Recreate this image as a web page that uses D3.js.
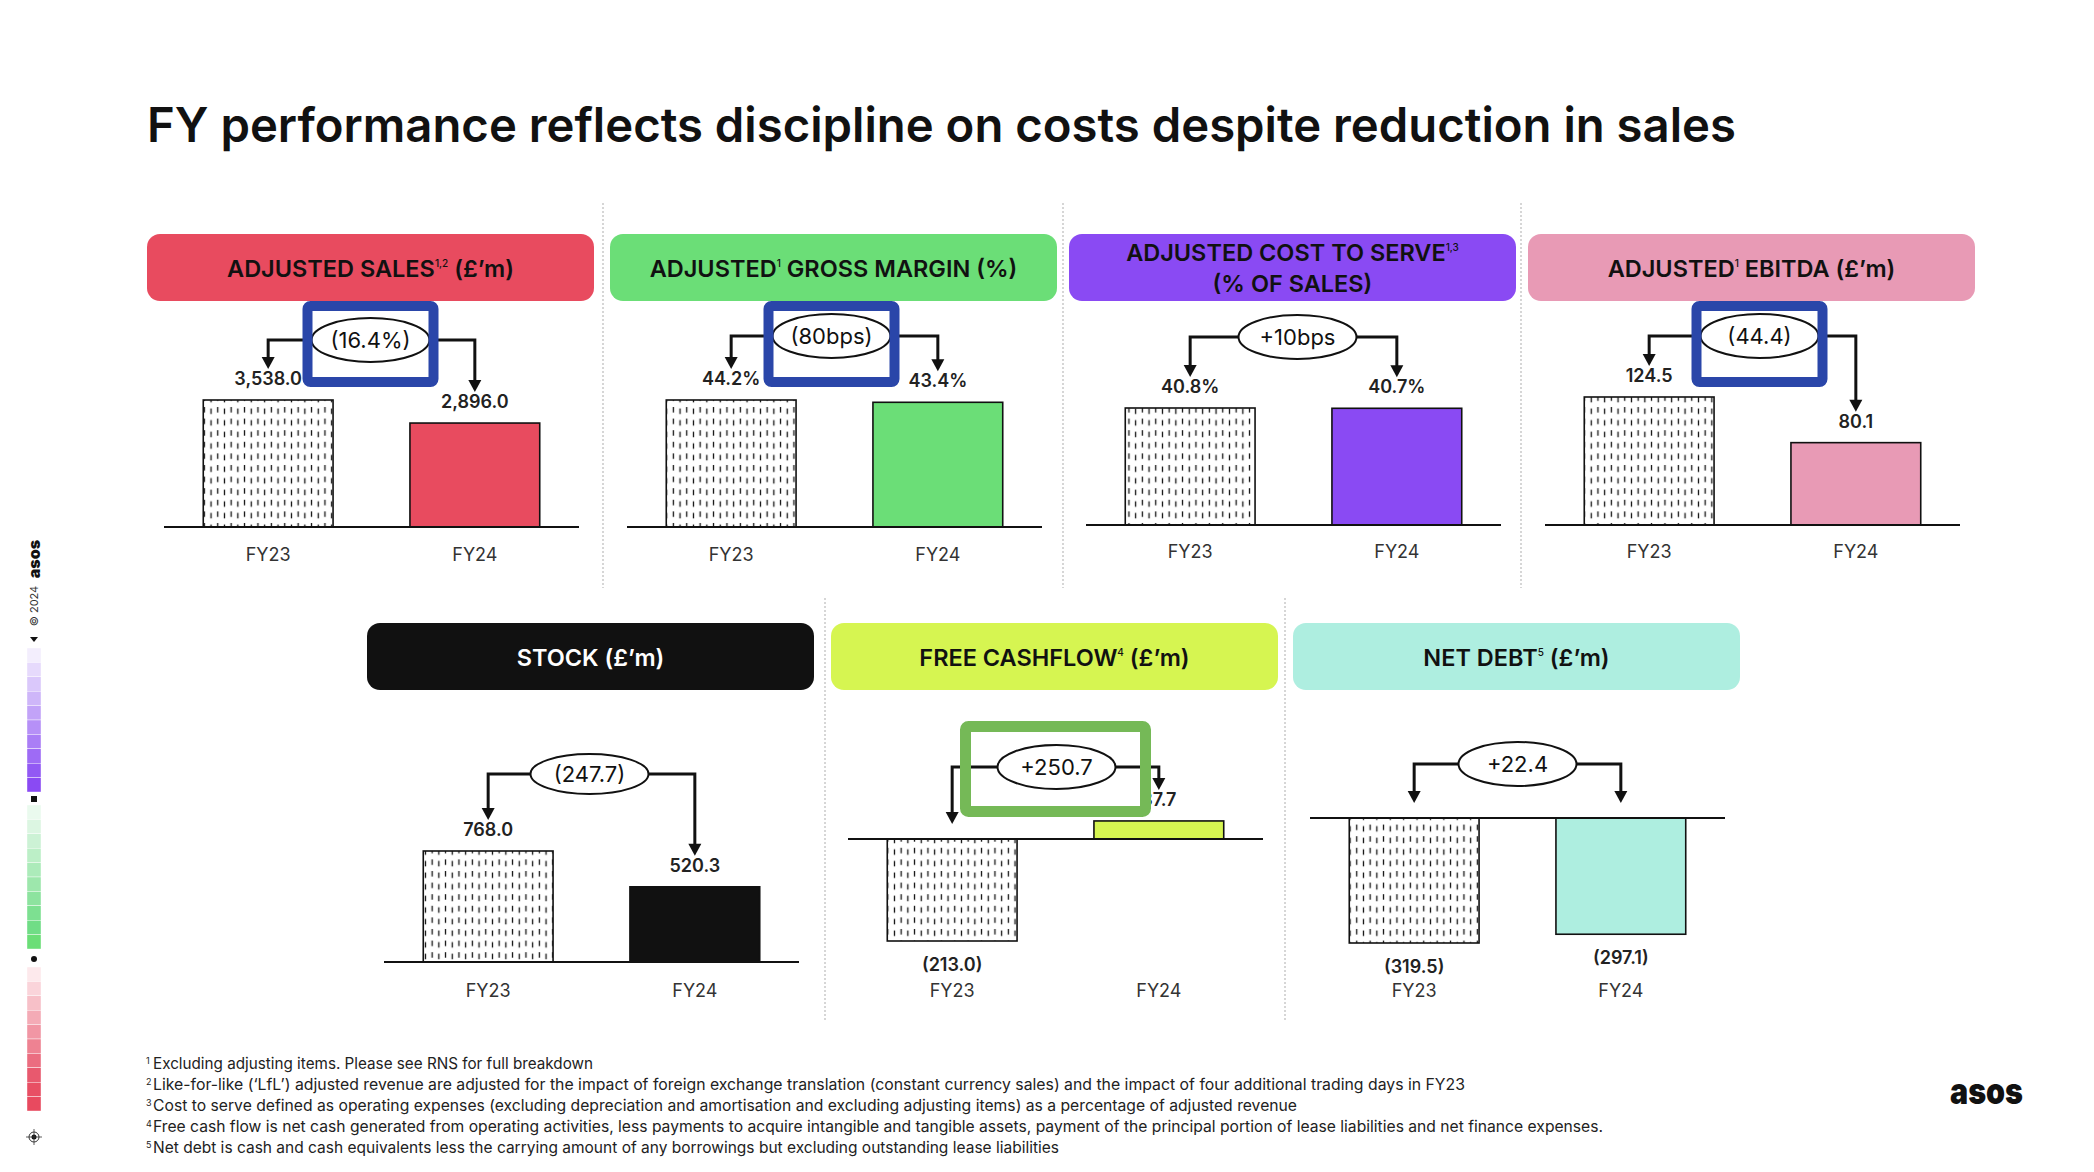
<!DOCTYPE html>
<html><head><meta charset="utf-8">
<script src="https://cdn.jsdelivr.net/npm/d3@7/dist/d3.min.js"></script>
<style>
html,body{margin:0;padding:0;background:#fff;}
svg{display:block;}
text{font-family:Inter,"Noto Sans",sans-serif;}
</style></head>
<body>
<svg id="c" width="2094" height="1172"></svg>
<script>
// ---------------- DATA ----------------
const categories = ["FY23", "FY24"];
const fy23Values = [3538.0, 44.2, 40.8, 124.5, 768.0, -213.0, -319.5];
const fy24Values = [2896.0, 43.4, 40.7, 80.1, 520.3, 37.7, -297.1];
const fy23Labels = ["3,538.0", "44.2%", "40.8%", "124.5", "768.0", "(213.0)", "(319.5)"];
const fy24Labels = ["2,896.0", "43.4%", "40.7%", "80.1", "520.3", "37.7", "(297.1)"];
const changeLabels = ["(16.4%)", "(80bps)", "+10bps", "(44.4)", "(247.7)", "+250.7", "+22.4"];
const headerLines = [
  [[["ADJUSTED SALES", 0], ["1,2", 1], [" (£’m)", 0]]],
  [[["ADJUSTED", 0], ["1", 1], [" GROSS MARGIN (%)", 0]]],
  [[["ADJUSTED COST TO SERVE", 0], ["1,3", 1]], [["(% OF SALES)", 0]]],
  [[["ADJUSTED", 0], ["1", 1], [" EBITDA (£’m)", 0]]],
  [[["STOCK (£’m)", 0]]],
  [[["FREE CASHFLOW", 0], ["4", 1], ["  (£’m)", 0]]],
  [[["NET DEBT", 0], ["5", 1], [" (£’m)", 0]]]
];
const headerColors = ["#E84B5F", "#6BDE77", "#8A4AF3", "#E89AB5", "#111111", "#D6F551", "#AEEEE0"];
const headerTextColors = ["#111", "#111", "#111", "#111", "#fff", "#111", "#111"];
const fy24Colors = ["#E84B5F", "#6BDE77", "#8A4AF3", "#E89AB5", "#111111", "#D6F551", "#AEEEE0"];
const highlightKinds = ["blue", "blue", null, "blue", null, "green", null];
const titleText = "FY performance reflects discipline on costs despite reduction in sales";
const footnoteNums = ["1", "2", "3", "4", "5"];
const footnotes = [
  "Excluding adjusting items. Please see RNS for full breakdown",
  "Like-for-like (‘LfL’) adjusted revenue are adjusted for the impact of foreign exchange translation (constant currency sales) and the impact of four additional trading days in FY23",
  "Cost to serve defined as operating expenses (excluding depreciation and amortisation and excluding adjusting items) as a percentage of adjusted revenue",
  "Free cash flow is net cash generated from operating activities, less payments to acquire intangible and tangible assets, payment of the principal portion of lease liabilities and net finance expenses.",
  "Net debt is cash and cash equivalents less the carrying amount of any borrowings but excluding outstanding lease liabilities"
];
const purpleSteps = ["#F3EEFD","#E6DAFC","#DAC8FB","#CEB6F9","#C2A3F8","#B690F7","#AA7EF6","#9E6BF5","#9259F4","#8A4AF3"];
const greenSteps = ["#EAFAEE","#DCF6E2","#CCF2D5","#BCEFC7","#ACEBBA","#9DE7AC","#8DE39F","#7DE091","#70DD86","#6BDE77"];
const pinkSteps = ["#FDE9EC","#FAD4DA","#F7C0C8","#F4ABB6","#F196A4","#EE8292","#EB6D80","#E8596E","#E84F64","#E84A5F"];

// ---------------- LAYOUT ----------------
const layout = [
  {hx:147,  hy:234, base:527, hmax:127, ey:340, exOff:-1, catY:561},
  {hx:610,  hy:234, base:527, hmax:127, ey:336, exOff:-3, catY:561},
  {hx:1069, hy:234, base:525, hmax:117, ey:337, exOff:4,  catY:558},
  {hx:1528, hy:234, base:525, hmax:128, ey:336, exOff:7,  catY:558},
  {hx:367,  hy:623, base:962, hmax:111, ey:774, exOff:-2, catY:997},
  {hx:831,  hy:623, base:839, hmax:102, ey:767, exOff:1,  catY:997},
  {hx:1293, hy:623, base:818, hmax:125, ey:764, exOff:0,  catY:997}
];
const HW = 447, HH = 67;
const footWidths = [440, 1312, 1144, 1450, 906];

const svg = d3.select("#c");
const defs = svg.append("defs");
const pat = defs.append("pattern").attr("id","hatch").attr("patternUnits","userSpaceOnUse")
  .attr("width",13.4).attr("height",11.6);
pat.append("rect").attr("width",13.4).attr("height",11.6).attr("fill","#fff");
pat.append("line").attr("x1",3.35).attr("x2",3.35).attr("y1",1).attr("y2",6.5).attr("stroke","#111").attr("stroke-width",1.3);
pat.append("line").attr("x1",10.05).attr("x2",10.05).attr("y1",2.5).attr("y2",8).attr("stroke","#111").attr("stroke-width",1.3);

// Title
svg.append("text").attr("x",147).attr("y",142).attr("font-size",48).attr("font-weight",600)
  .attr("fill","#111").attr("textLength",1589).attr("lengthAdjust","spacingAndGlyphs").text(titleText);

// separators
const sepTop = [603, 1063, 1521], sepBot = [825, 1285];
sepTop.forEach(x => svg.append("line").attr("x1",x).attr("x2",x).attr("y1",203).attr("y2",588)
  .attr("stroke","#c9c9c9").attr("stroke-width",1.5).attr("stroke-dasharray","2,2"));
sepBot.forEach(x => svg.append("line").attr("x1",x).attr("x2",x).attr("y1",598).attr("y2",1022)
  .attr("stroke","#c9c9c9").attr("stroke-width",1.5).attr("stroke-dasharray","2,2"));

layout.forEach((L, i) => {
  const g = svg.append("g");
  // header
  g.append("rect").attr("x",L.hx).attr("y",L.hy).attr("width",HW).attr("height",HH).attr("rx",13)
    .attr("fill",headerColors[i]);
  const lines = headerLines[i];
  const cx = L.hx + HW/2;
  const baseYs = lines.length === 1 ? [L.hy + 43] : [L.hy + 27, L.hy + 58];
  lines.forEach((segs, li) => {
    const t = g.append("text").attr("x",cx).attr("y",baseYs[li]).attr("text-anchor","middle")
      .attr("font-size",23.5).attr("font-weight",600).attr("fill",headerTextColors[i]);
    segs.forEach((s, si) => {
      const ts = t.append("tspan").text(s[0]);
      if (s[1]) ts.attr("font-size",10).attr("dy",-10).attr("font-weight",500);
      else if (si > 0 && segs[si-1][1]) ts.attr("dy",10);
    });
  });

  // scales
  const x = d3.scaleBand().domain(categories).range([L.hx + 17, L.hx + 17 + 415]).paddingInner(0.372).paddingOuter(0.19);
  const vals = [fy23Values[i], fy24Values[i]];
  const labs = [fy23Labels[i], fy24Labels[i]];
  const maxAbs = d3.max(vals, v => Math.abs(v));
  const y = d3.scaleLinear().domain([0, maxAbs]).range([L.base, L.base - L.hmax]);

  // bars
  g.selectAll("rect.bar").data(vals).join("rect").attr("class","bar")
    .attr("x",(d,j)=>x(categories[j])).attr("width",x.bandwidth())
    .attr("y",d=>Math.min(y(d), y(0))).attr("height",d=>Math.abs(y(d)-y(0)))
    .attr("fill",(d,j)=> j===0 ? "url(#hatch)" : fy24Colors[i])
    .attr("stroke","#111").attr("stroke-width",1.6);

  // baseline
  g.append("line").attr("x1",L.hx+17).attr("x2",L.hx+17+415).attr("y1",y(0)).attr("y2",y(0))
    .attr("stroke","#111").attr("stroke-width",2.2);

  // value labels
  const labY = vals.map(v => v >= 0 ? y(v) - 15 : y(v) + 30);
  g.selectAll("text.val").data(vals).join("text").attr("class","val")
    .attr("x",(d,j)=>x(categories[j]) + x.bandwidth()/2).attr("y",(d,j)=>labY[j])
    .attr("text-anchor","middle").attr("font-size",18).attr("font-weight",600).attr("fill","#222")
    .text((d,j)=>labs[j]);

  // category labels
  g.selectAll("text.cat").data(categories).join("text").attr("class","cat")
    .attr("x",d=>x(d)+x.bandwidth()/2).attr("y",L.catY).attr("text-anchor","middle")
    .attr("font-size",18).attr("fill","#333").text(d=>d);

  // connector arrows
  const xs = categories.map(c => x(c) + x.bandwidth()/2);
  const tips = vals.map((v,j) => v >= 0 ? labY[j] - 16 : y(0) - 15);
  const ex = (xs[0] + xs[1]) / 2 + L.exOff;
  const path = `M${xs[0]},${tips[0]-10} L${xs[0]},${L.ey} L${xs[1]},${L.ey} L${xs[1]},${tips[1]-10}`;
  g.append("path").attr("d",path).attr("fill","none").attr("stroke","#111").attr("stroke-width",3);
  xs.forEach((xx,j) => g.append("path")
    .attr("d",`M${xx-6.5},${tips[j]-12} L${xx+6.5},${tips[j]-12} L${xx},${tips[j]} Z`).attr("fill","#111"));
  g.append("ellipse").attr("cx",ex).attr("cy",L.ey).attr("rx",59).attr("ry",i===4?20:22)
    .attr("fill","#fff").attr("stroke","#111").attr("stroke-width",2);
  g.append("text").attr("x",ex).attr("y",L.ey).attr("dy","0.36em").attr("text-anchor","middle")
    .attr("font-size",22).attr("fill","#111").text(changeLabels[i]);

  // highlight boxes
  if (highlightKinds[i] === "blue") {
    g.append("rect").attr("x",ex-63).attr("y",L.hy+HH+5).attr("width",126).attr("height",76)
      .attr("rx",3).attr("fill","none").attr("stroke","#2A46A9").attr("stroke-width",10);
  } else if (highlightKinds[i] === "green") {
    g.append("rect").attr("x",ex-91).attr("y",L.ey-40.5).attr("width",180).attr("height",85)
      .attr("rx",3).attr("fill","none").attr("stroke","#75B957").attr("stroke-width",11);
  }
});

// footnotes
footnotes.forEach((f, k) => {
  const yy = 1069 + k * 21;
  svg.append("text").attr("x",146).attr("y",yy-5).attr("font-size",9).attr("fill","#222").text(footnoteNums[k]);
  svg.append("text").attr("x",153).attr("y",yy).attr("font-size",15.5).attr("fill","#222")
    .attr("textLength",footWidths[k]).attr("lengthAdjust","spacingAndGlyphs").text(f);
});

// asos logo bottom right
svg.append("text").attr("x",1950).attr("y",1104).attr("font-size",37).attr("font-weight",900)
  .attr("fill","#111").attr("textLength",73).attr("lengthAdjust","spacingAndGlyphs").text("asos");

// left sidebar
svg.append("text").attr("transform","translate(40,559) rotate(-90)").attr("text-anchor","middle")
  .attr("font-size",16).attr("font-weight",900).attr("fill","#111").text("asos");
svg.append("text").attr("transform","translate(38,606) rotate(-90)").attr("text-anchor","middle")
  .attr("font-size",11).attr("fill","#333").text("© 2024");
svg.append("path").attr("d","M30,637 L38,637 L34,642 Z").attr("fill","#111");
const strips = [[purpleSteps,648],[greenSteps,805],[pinkSteps,967]];
strips.forEach(([cols, y0]) => {
  cols.forEach((c, k) => svg.append("rect").attr("x",27).attr("y",y0 + k*14.4).attr("width",14).attr("height",14.4)
    .attr("fill",c).attr("stroke","#fff").attr("stroke-width",0.4));
});
svg.append("rect").attr("x",31).attr("y",796).attr("width",6).attr("height",6).attr("fill","#111");
svg.append("circle").attr("cx",34).attr("cy",959).attr("r",3).attr("fill","#111");
svg.append("circle").attr("cx",34).attr("cy",1137).attr("r",5).attr("fill","none").attr("stroke","#333").attr("stroke-width",1);
svg.append("circle").attr("cx",34).attr("cy",1137).attr("r",2.5).attr("fill","#111");
svg.append("line").attr("x1",26).attr("x2",42).attr("y1",1137).attr("y2",1137).attr("stroke","#333").attr("stroke-width",0.8);
svg.append("line").attr("x1",34).attr("x2",34).attr("y1",1129).attr("y2",1145).attr("stroke","#333").attr("stroke-width",0.8);
</script>
</body></html>
